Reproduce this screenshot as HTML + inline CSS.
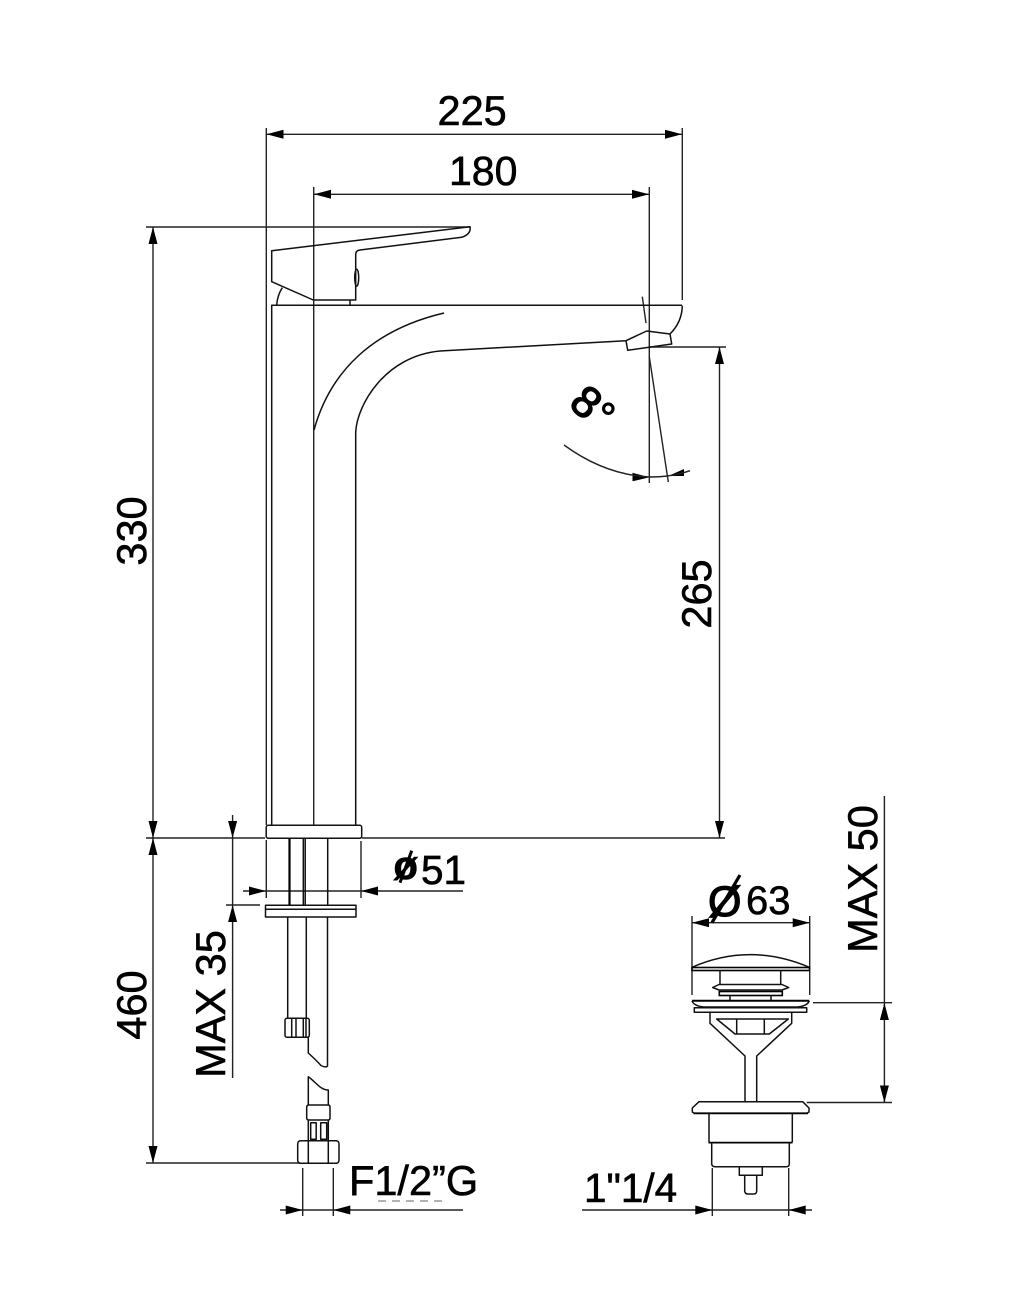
<!DOCTYPE html>
<html><head><meta charset="utf-8"><style>
html,body{margin:0;padding:0;background:#fff}
svg{display:block}
text{font-family:"Liberation Sans",sans-serif;font-size:41.5px;fill:#000;stroke:#000;stroke-width:.6}
.d{stroke:#222;stroke-width:1.4;fill:none}
.o{stroke:#111;stroke-width:1.5;fill:none;stroke-linejoin:round}
.t{stroke:#000;stroke-width:2.2;fill:none}
.a{fill:#000;stroke:none}
</style></head><body>
<svg width="1017" height="1313" viewBox="0 0 1017 1313" xmlns="http://www.w3.org/2000/svg">
<!-- dimension lines -->
<path class="d" d="M266.3 128V825M266.3 840V898M682.3 128V300M266.3 134.3H682.3
M313.7 187V825M649.3 187V483M313.7 194.3H649.3
M146 227H470M153 227V838M146 838H265M362 838H725M153 838V1163M146 1163H300
M650 347H726M719.5 347V838
M232.6 815V1078M226 905H260
M361 841V898M243 891H463
M302.7 1168V1216M333.3 1168V1216M280 1210H463
M692 916V995M809.7 916V995M692 922.7H809.7
M884.4 796V1102.5M813 1002.7H892M806.7 1102.5H892
M712.3 1168V1216M788.7 1168V1216M582 1210H812"/>
<path class="a" d="M266.5 134.3l17-4.5v9zM682 134.3l-17-4.5v9z
M314 194.3l17-4.5v9zM649 194.3l-17-4.5v9z
M153 227l-4.5 17h9zM153 838l-4.5-17h9zM153 838l-4.5 17h9zM153 1163l-4.5-17h9z
M719.5 347l-4.5 17h9zM719.5 838l-4.5-17h9z
M232.6 838l-4.5-17h9zM232.6 905l-4.5 17h9z
M266 891l-17-4.5v9zM361 891l17-4.5v9z
M302.7 1210l-17-4.5v9zM333.3 1210l17-4.5v9z
M692 922.7l17-4.5v9zM809.7 922.7l-17-4.5v9z
M884.4 1003l-4.5 17h9zM884.4 1102.5l-4.5-17h9z
M712.3 1210l-17-4.5v9zM788.7 1210l17-4.5v9z
M649.5 477.3l-17-4.5v8.5zM668.3 476L684 469V476z"/>
<!-- angle -->
<path class="d" d="M642.3 296.7L646 323M649.3 356.7L668.3 482M564 445Q605 475 650 477Q672 477 690 470.7"/>
<!-- handle -->
<path class="o" d="M271.7 250.7L470 226.7Q471.5 234 461.7 237.3L360 250Q355.7 250.5 355.7 254.5V300H313.3L271.7 281.7Z"/>
<ellipse class="o" cx="356.7" cy="277.7" rx="2" ry="8.5"/>
<path class="o" d="M276.7 305Q277.5 295 282.3 287.7M350 300V305"/>
<!-- body -->
<path class="o" d="M271.7 825V305.3H682M355.7 825V432C357 405 385 356 440 351L626 340.7L627.7 350.3L671.7 344L670 334L646.7 331L626 340.7M670 334Q682 322 682.3 305.7"/>
<path class="o" d="M314 430C330 372 372 330 444 313"/>
<!-- base -->
<rect class="o" x="266.2" y="825.3" width="95.5" height="13" rx="2"/>
<rect class="o" x="265.5" y="905.2" width="90.5" height="11.8"/>
<path class="o" d="M265.5 909.3H356"/>
<path class="t" d="M289.5 838.5V905"/>
<path class="o" d="M303.3 838.5V905M305.2 838.5V905M327.7 838.5V905M287.7 917V1018M306.3 917V1018M308.3 1037V1053Q316 1060 321 1065.5Q326 1068 327.5 1066V917"/>
<rect class="o" x="285" y="1018.3" width="24.3" height="19" rx="2"/>
<path class="o" d="M291.7 1018.3V1037.3M296 1018.3V1037.3M303.3 1018.3V1037.3M306 1018.3V1037.3"/>
<!-- hose -->
<path class="o" d="M308.3 1105V1076.7C316 1082 320 1090 328.3 1090V1105M306.7 1107Q306.7 1105 309 1105H328Q330 1105 330 1107V1118Q330 1120 328 1120H309Q306.7 1120 306.7 1118ZM308.3 1120V1140.7M328.3 1120V1140.7"/>
<rect class="o" x="310.7" y="1122.7" width="5.5" height="16.5"/>
<rect class="o" x="320.7" y="1122.7" width="6" height="16.5"/>
<rect class="o" x="297.7" y="1140.7" width="41.3" height="22.6" rx="3"/>
<path class="o" d="M308.3 1140.7V1163.3M328.3 1140.7V1163.3"/>
<path class="d" stroke-dasharray="8 6" d="M378 1201H448" style="stroke:#999"/>
<!-- waste top -->
<path class="o" d="M692 967.3Q750 942 809.3 967.3"/>
<rect class="t" x="692" y="967.5" width="117.5" height="3" style="stroke-width:1.6"/>
<path class="o" d="M720 971V984M780.7 971V984M730 996V1000M771 996V1000"/>
<path class="o" d="M719 984.5H782L788.7 987.5L782 990H719L712.7 987.5Z"/>
<rect class="t" x="719.3" y="991.5" width="63" height="4" style="stroke-width:1.6"/>
<path class="t" d="M692 1000.8H809.3" style="stroke-width:2"/>
<path class="o" d="M692 1001Q694 1006 704 1007H798Q807 1006 809.3 1001"/>
<rect class="o" x="694.3" y="1007.7" width="112.4" height="4.5"/>
<path class="o" d="M710 1012V1023.3L745 1056V1101.7M791.7 1012V1023.3L756.7 1056V1101.7M716.7 1019H788.3L769.3 1034H735ZM736.7 1019V1034M764.3 1019V1034"/>
<path class="o" d="M699 1101.7H802.7L809 1108V1112L807 1113.3H694.5L692.3 1112V1108Z"/>
<path class="t" d="M693.5 1113.3H808" style="stroke-width:1.8"/>
<path class="o" d="M709 1113.5V1142.3M792.3 1113.5V1142.3"/>
<path class="t" d="M708.5 1142.6H792.5" style="stroke-width:1.8"/>
<path class="o" d="M711.7 1143V1164Q712 1166.7 715 1166.7H786Q789.3 1166.7 789.3 1164V1143"/>
<path class="o" d="M739.3 1167V1175.3H762.3V1167"/>
<path class="o" d="M744.7 1175.5V1191Q745 1194 748 1194H753.5Q756.7 1194 756.7 1191V1175.5"/>
<!-- labels -->
<text x="437.5" y="125">225</text>
<text x="449" y="185" style="font-size:41px">180</text>
<text transform="translate(146 531) rotate(-90)" text-anchor="middle">330</text>
<text transform="translate(146 1005) rotate(-90)" text-anchor="middle">460</text>
<text transform="translate(711 594) rotate(-90)" text-anchor="middle">265</text>
<text transform="translate(225 1004) rotate(-90)" text-anchor="middle">MAX 35</text>
<text transform="translate(877 879) rotate(-90)" text-anchor="middle">MAX 50</text>
<text x="421" y="884" style="font-size:40.5px">51</text>
<text x="393.5" y="879" style="font-weight:bold;font-size:40px">ø</text>
<path class="t" d="M411.7 850.7L400 882.7" style="stroke-width:3"/>
<text x="708" y="916" style="font-size:43px;stroke-width:1.2">Ø</text>
<path class="t" d="M740 875L712 922.7" style="stroke-width:3.2"/>
<text x="746" y="914" style="font-size:40px">63</text>
<text x="349" y="1195">F1/2”G</text>
<text x="584" y="1202" style="font-size:40.5px">1"1/4</text>
<text transform="translate(586.7 401.7) rotate(40)" text-anchor="middle" y="15.5" style="font-size:44px;stroke-width:1.3">8</text>
<text x="600" y="432" style="stroke-width:1">°</text>
</svg>
</body></html>
